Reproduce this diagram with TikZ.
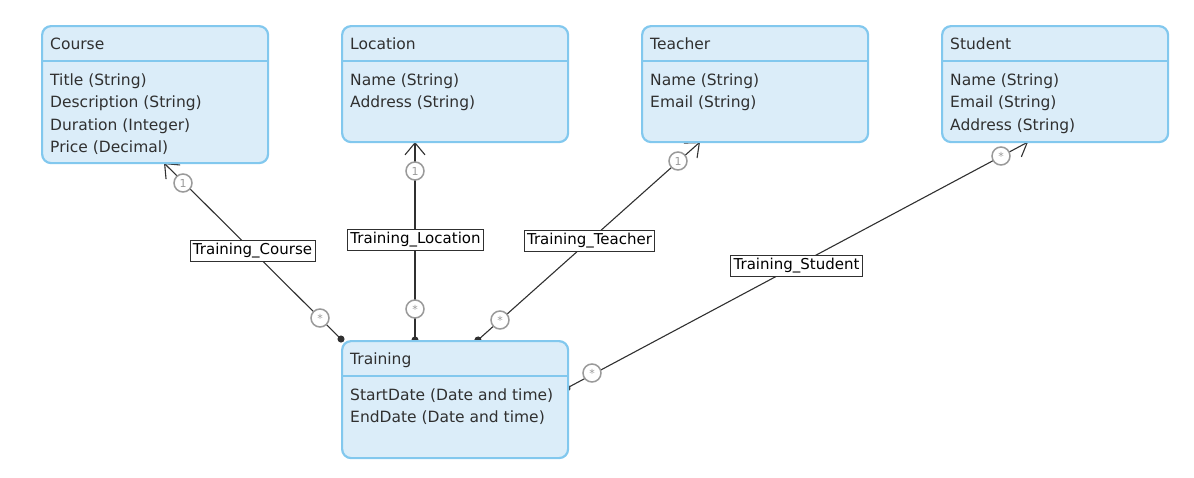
\documentclass[tikz,border=0pt]{standalone}
\usepackage{fontspec}
\setmainfont{DejaVu Sans}
\usetikzlibrary{arrows.meta}
\definecolor{entfill}{HTML}{DBEDF9}
\definecolor{entline}{HTML}{82C8EE}
\definecolor{mult}{HTML}{9A9A9A}
\definecolor{ink}{HTML}{303030}
\tikzset{
  x=1pt,y=-1pt,
  entity/.style={draw=entline,fill=entfill,line width=2.2pt,rounded corners=9pt,anchor=north west,inner sep=0pt},
  sep/.style={draw=entline,line width=2pt},
  etitle/.style={anchor=base west,inner sep=0pt,font=\fontsize{15.5}{17}\selectfont,text=ink},
  eattr/.style={anchor=base west,inner sep=0pt,font=\fontsize{15.5}{17}\selectfont,text=ink},
  assoc/.style={draw=ink,line width=1.1pt},
  dotarrow/.style={{Circle[length=7pt,width=7pt]}-{Straight Barb[length=12pt,width=20pt,line width=1.1pt]}},
  rlabel/.style={draw=ink,fill=white,line width=0.9pt,inner xsep=3pt,inner ysep=3pt,font=\fontsize{15}{16}\selectfont,text=black},
  multc/.style={circle,draw=mult,fill=white,line width=1.5pt,minimum size=18pt,inner sep=0pt,font=\fontsize{11}{11}\selectfont,text=mult},
}
\begin{document}
\begin{tikzpicture}
\useasboundingbox (0,0) rectangle (1194,477);
% connector end points
\coordinate (cA) at (343.5,341.5);
\coordinate (cB) at (164,163);
\coordinate (lA) at (415,343.5);
\coordinate (lB) at (415,142);
\coordinate (tA) at (475.4,342.3);
\coordinate (tB) at (700,142);
\coordinate (sA) at (563.9,389.7);
\coordinate (sB) at (1028,142);
% connectors (drawn under the entities)
\draw[assoc,dotarrow] (cA) -- (cB);
\draw[assoc,dotarrow] (lA) -- (lB);
\draw[assoc,dotarrow] (tA) -- (tB);
\draw[assoc,dotarrow] (sA) -- (sB);
% entities
\node[entity,minimum width=226pt,minimum height=137pt] (course) at (41,25) {};
\node[entity,minimum width=226pt,minimum height=116pt] (location) at (341,25) {};
\node[entity,minimum width=226pt,minimum height=116pt] (teacher) at (641,25) {};
\node[entity,minimum width=226pt,minimum height=116pt] (student) at (941,25) {};
\node[entity,minimum width=226pt,minimum height=117pt] (training) at (341,340) {};
% header separators
\draw[sep] (course.west |- 0,61) -- (course.east |- 0,61);
\draw[sep] (location.west |- 0,61) -- (location.east |- 0,61);
\draw[sep] (teacher.west |- 0,61) -- (teacher.east |- 0,61);
\draw[sep] (student.west |- 0,61) -- (student.east |- 0,61);
\draw[sep] (training.west |- 0,376) -- (training.east |- 0,376);
% texts
\node[etitle] (ct) at (50,49) {Course};
\node[eattr] (c1) at (50,85) {Title (String)};
\node[eattr] (c2) at (50,107.5) {Description (String)};
\node[eattr] (c3) at (50,130) {Duration (Integer)};
\node[eattr] (c4) at (50,152) {Price (Decimal)};
\node[etitle] (lt) at (350,49) {Location};
\node[eattr] (l1) at (350,85) {Name (String)};
\node[eattr] (l2) at (350,107.5) {Address (String)};
\node[etitle] (tt) at (650,49) {Teacher};
\node[eattr] (t1) at (650,85) {Name (String)};
\node[eattr] (t2) at (650,107.5) {Email (String)};
\node[etitle] (st) at (950,49) {Student};
\node[eattr] (s1) at (950,85) {Name (String)};
\node[eattr] (s2) at (950,107.5) {Email (String)};
\node[eattr] (s3) at (950,130) {Address (String)};
\node[etitle] (trt) at (350,364) {Training};
\node[eattr] (tr1) at (350,400) {StartDate (Date and time)};
\node[eattr] (tr2) at (350,422.5) {EndDate (Date and time)};
% multiplicities
\node[multc] (cm1) at (183,183) {1};
\node[multc] (cm2) at (320,318) {*};
\node[multc] (lm1) at (415,171) {1};
\node[multc] (lm2) at (415,309) {*};
\node[multc] (tm1) at (678,161) {1};
\node[multc] (tm2) at (500,320) {*};
\node[multc] (sm1) at (1001,156) {*};
\node[multc] (sm2) at (592,373) {*};
% labels
\node[rlabel] (cl) at (252.5,250.5) {Training\_Course};
\node[rlabel] (ll) at (415.5,240) {Training\_Location};
\node[rlabel] (tl) at (589.5,241) {Training\_Teacher};
\node[rlabel] (sl) at (796.5,265.5) {Training\_Student};
\end{tikzpicture}
\end{document}
